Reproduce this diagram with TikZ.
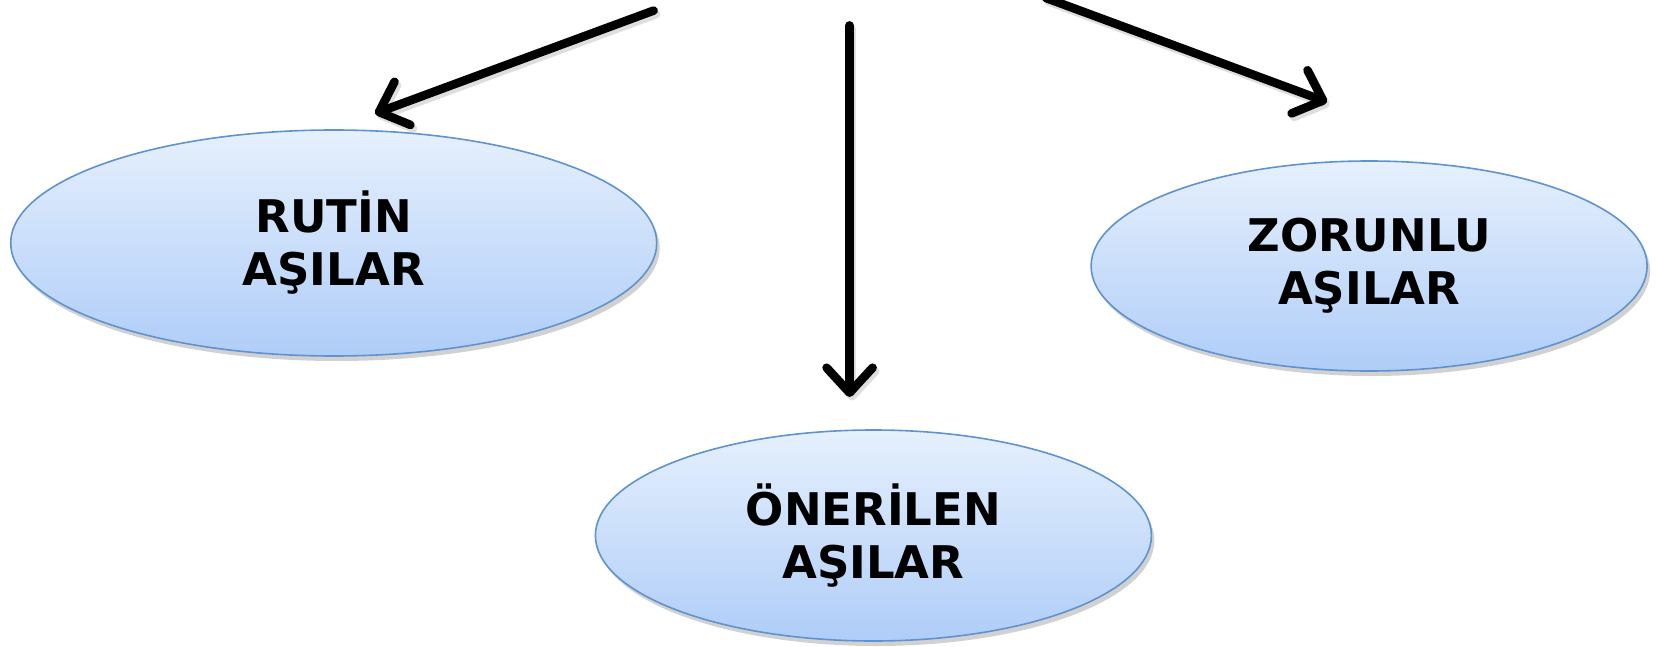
\documentclass[tikz,border=0pt]{standalone}
\usepackage{fontspec}
\setmainfont{DejaVu Sans}
\usetikzlibrary{arrows.meta,shadows,shapes.geometric}
\definecolor{ovalborder}{HTML}{5F93CF}
\definecolor{ovaltop}{HTML}{E6F0FD}
\definecolor{ovalbot}{HTML}{AFCDF8}
\begin{document}
\begin{tikzpicture}[x=1pt,y=-1pt,
  oval/.style={ellipse, draw=ovalborder, line width=1.6pt,
    top color=ovaltop, bottom color=ovalbot, inner sep=0pt, align=center,
    font=\fontsize{45}{53}\selectfont\bfseries,
    drop shadow={shadow xshift=3pt, shadow yshift=-5pt, opacity=0.18, fill=black}},
  arrshadow/.style={line width=8.6pt, line cap=round, black, opacity=0.13,
    -{Straight Barb[length=25pt,width=46pt,line cap=round,line join=round]}},
  arr/.style={line width=8.6pt, line cap=round, black,
    -{Straight Barb[length=25pt,width=46pt,line cap=round,line join=round]}}]
\useasboundingbox (0,0) rectangle (1661,647);

\node[oval, minimum width=646pt, minimum height=226pt] (rutin) at (333.7,243) {RUTİN\\AŞILAR};
\node[oval, minimum width=556pt, minimum height=211pt] (oneri) at (873.4,535.5) {ÖNERİLEN\\AŞILAR};
\node[oval, minimum width=556pt, minimum height=210pt] (zorun) at (1369.1,266) {ZORUNLU\\AŞILAR};

\coordinate (s1) at (653.6,10.6);
\coordinate (t1) at (375,113.5);
\coordinate (s2) at (849.6,25.4);
\coordinate (t2) at (849.6,397);
\coordinate (s3) at (1046,-2);
\coordinate (t3) at (1327,102);

\foreach \a/\b in {s1/t1,s2/t2,s3/t3}{
  \draw[arrshadow, transform canvas={xshift=2.5pt,yshift=-3.5pt}] (\a) -- (\b);
}
\draw[arr] (s1) -- (t1);
\draw[arr] (s2) -- (t2);
\draw[arr] (s3) -- (t3);
\end{tikzpicture}
\end{document}
